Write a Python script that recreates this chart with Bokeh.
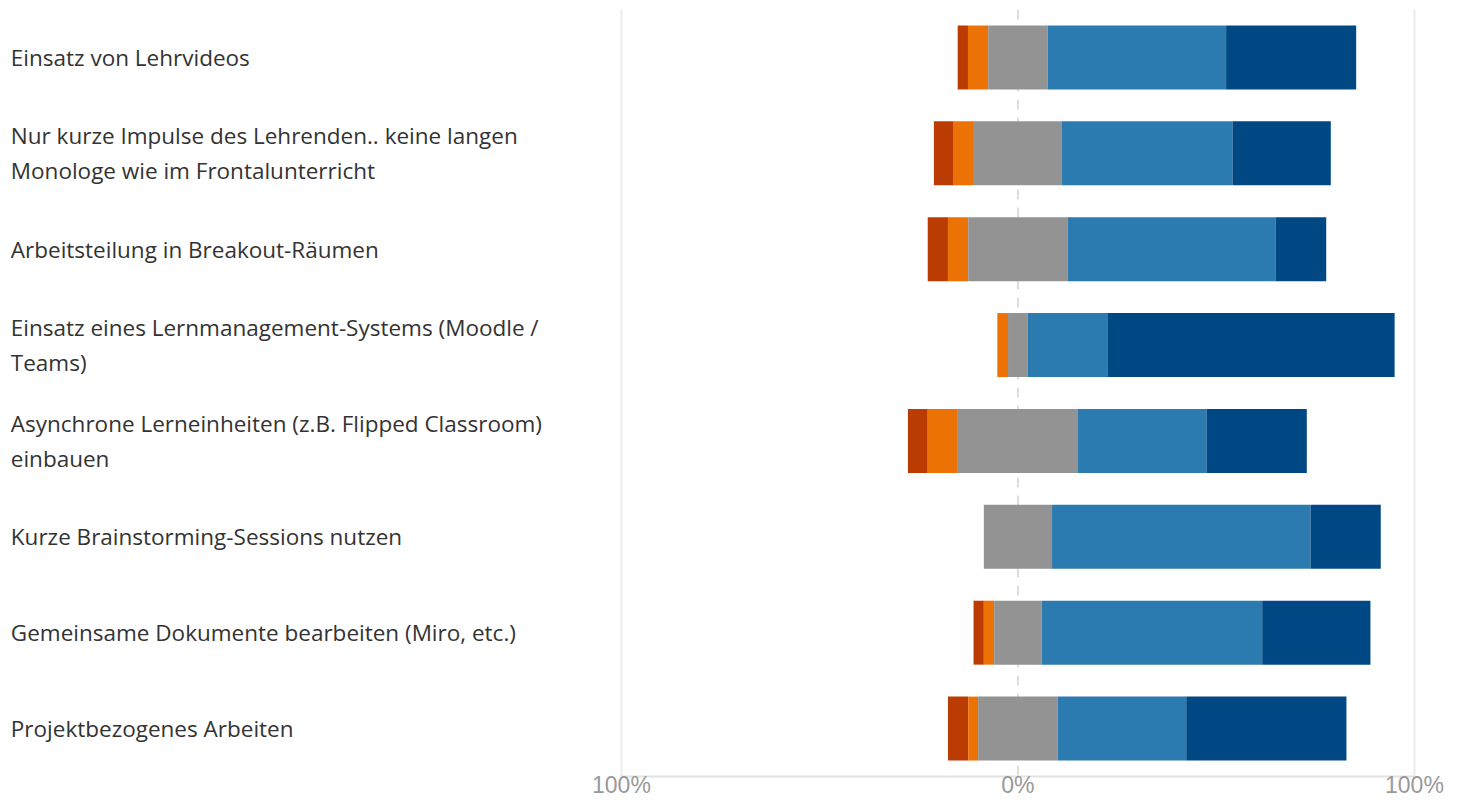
import numpy as np
from bokeh.plotting import figure
from bokeh.models import FactorRange, Range1d, FixedTicker, Span
from bokeh.core.properties import value
from bokeh.embed import file_html
from bokeh.resources import INLINE

categories = [
    "Einsatz von Lehrvideos",
    "Nur kurze Impulse des Lehrenden.. keine langen\nMonologe wie im Frontalunterricht",
    "Arbeitsteilung in Breakout-Räumen",
    "Einsatz eines Lernmanagement-Systems (Moodle /\nTeams)",
    "Asynchrone Lerneinheiten (z.B. Flipped Classroom)\neinbauen",
    "Kurze Brainstorming-Sessions nutzen",
    "Gemeinsame Dokumente bearbeiten (Miro, etc.)",
    "Projektbezogenes Arbeiten",
]

# percentages per answer level
very_negative = [2.6, 5.0, 5.1, 0.0, 5.0, 0.0, 2.6, 5.1]
negative = [5.1, 5.1, 5.1, 2.7, 7.6, 0.0, 2.6, 2.5]
neutral = [15.0, 22.2, 25.1, 5.0, 30.3, 17.2, 12.0, 20.1]
positive = [45.0, 43.0, 52.5, 20.2, 32.4, 65.2, 55.6, 32.4]
very_positive = [32.8, 24.8, 12.7, 72.3, 25.3, 17.7, 27.3, 40.4]

tick_values = [-100, 0, 100]
tick_labels = ["100%", "0%", "100%"]

colors = ["#bb3c02", "#ec7206", "#939393", "#2b7ab0", "#004883"]

vn = np.array(very_negative)
ng = np.array(negative)
nu = np.array(neutral)
po = np.array(positive)
vp = np.array(very_positive)

nu_l = -nu / 2
nu_r = nu / 2
ng_l = nu_l - ng
vn_l = ng_l - vn
po_r = nu_r + po
vp_r = po_r + vp

segments = [
    (vn_l, ng_l, colors[0]),
    (ng_l, nu_l, colors[1]),
    (nu_l, nu_r, colors[2]),
    (nu_r, po_r, colors[3]),
    (po_r, vp_r, colors[4]),
]

p = figure(
    width=1454, height=800,
    x_range=Range1d(-256.6, 110.1),
    y_range=FactorRange(factors=list(reversed(categories)), range_padding=0),
    output_backend="svg", toolbar_location=None,
    min_border_left=0, min_border_right=0, min_border_top=9, min_border_bottom=22,
)
p.outline_line_color = None
p.background_fill_color = "white"
p.border_fill_color = "white"

p.yaxis.visible = False
p.ygrid.grid_line_color = None

p.xgrid.ticker = FixedTicker(ticks=[-100, 100])
p.xgrid.grid_line_color = "#ebebeb"
p.xgrid.grid_line_width = 2

zero = Span(location=0, dimension="height", line_color="#dddddd",
            line_width=2, line_dash="10 8", level="underlay")
p.add_layout(zero)

xa = p.xaxis[0]
xa.ticker = FixedTicker(ticks=tick_values)
xa.major_label_overrides = {v: l for v, l in zip(tick_values, tick_labels)}
xa.bounds = (-100, 100)
xa.axis_line_color = "#e3e3e3"
xa.axis_line_width = 2
xa.major_tick_line_color = None
xa.minor_tick_line_color = None
xa.major_tick_out = 0
xa.major_label_standoff = -5
xa.major_label_text_font = "Liberation Sans"
xa.major_label_text_font_size = "23px"
xa.major_label_text_color = "#999999"

for left, right, c in segments:
    p.hbar(y=categories, left=left, right=right, height=0.667,
           fill_color=c, line_color=None)

p.text(x=[-254.0] * len(categories), y=categories, text=categories,
       text_align="left", text_baseline="middle",
       text_font=value("Open Sans"), text_font_size="22.5px",
       text_color="#333333", text_line_height=1.14)

open("out.html", "w").write(file_html(p, INLINE))
